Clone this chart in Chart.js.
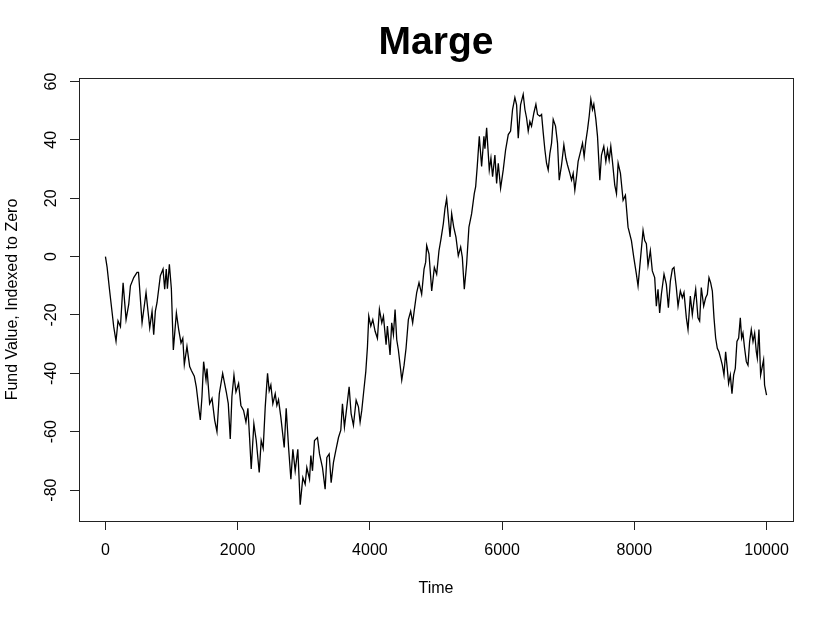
<!DOCTYPE html>
<html><head><meta charset="utf-8">
<script src="https://cdn.jsdelivr.net/npm/chart.js@4/dist/chart.umd.min.js"></script>
<style>html,body{margin:0;padding:0;background:#fff}#wrap{width:833px;height:619px}</style>
</head><body><div id="wrap"><canvas id="c" width="833" height="619"></canvas></div>
<script>
const chartTitle = "Marge";
const xLabel = "Time";
const yLabel = "Fund Value, Indexed to Zero";
const xTicks = [0, 2000, 4000, 6000, 8000, 10000];
const yTicks = [-80, -60, -40, -20, 0, 20, 40, 60];

const times = [
0,25,60,100,125,160,190,227,267,312,352,378,428,478,500,554,614,670,705,730,755,780,830,871,896,920,937,967,997,
1027,1073,1108,1143,1170,1193,1233,1274,1300,1344,1374,1410,1435,1460,1485,1521,1536,1576,1612,1652,1687,1722,1773,1828,1858,1888,1913,1944,1974,
2014,2049,2089,2125,2155,2180,2205,2245,2281,2326,2356,2386,2417,2452,2477,2502,2532,2568,2593,2618,2653,2704,2734,2770,2805,2835,2870,2910,2946,2986,
3021,3046,3087,3107,3132,3162,3207,3238,3283,3323,3349,3384,3414,3449,3484,3525,3560,3585,3615,3651,3686,3716,3751,3792,3827,3852,3877,3903,3938,3963,3983,
4014,4044,4079,4114,4144,4180,4205,4245,4265,4305,4330,4356,4381,4406,4431,4466,4482,4517,4547,4582,4617,4647,4673,4708,4743,4783,4819,4844,4859,4894,4935,4975,
5010,5045,5075,5111,5136,5161,5186,5212,5237,5267,5302,5337,5373,5398,5428,5463,5498,5539,5579,5600,5624,5655,5690,5725,5740,5766,5806,5831,5856,5891,5917,5942,5977,
6017,6053,6093,6128,6158,6193,6219,6244,6279,6319,6345,6370,6395,6420,6445,6481,6511,6536,6571,6597,6622,6647,6672,6697,6723,6748,6773,6808,6838,6864,6899,6934,6964,6989,
7025,7050,7075,7100,7125,7150,7186,7216,7241,7266,7292,7317,7342,7367,7387,7418,7443,7478,7503,7538,7569,7594,7619,7644,7669,7704,7730,7755,7790,7830,7865,7905,7956,7991,
8031,8056,8091,8132,8157,8182,8207,8242,8272,8308,8333,8358,8383,8409,8449,8484,8515,8545,8575,8600,8635,8661,8696,8726,8751,8787,8812,8847,8877,8902,8928,8963,8988,
9013,9049,9079,9104,9129,9154,9180,9205,9230,9255,9280,9305,9331,9356,9381,9401,9426,9452,9477,9502,9527,9552,9578,9603,9623,9643,9668,9694,9719,9744,9769,9795,9820,9845,9860,9885,9910,9935,9955,9970,10000
];
const values = [
0,-3.6,-11,-19,-24,-29,-22,-24,-9,-21.6,-16.4,-10,-7.2,-5.4,-5.4,-22.7,-12.3,-24.4,-18.7,-26.8,-18.7,-15.8,-6.6,-4.3,-11.2,-4.3,-11,-2.6,-11,
-32,-19.3,-25,-29.6,-28,-37,-30.8,-37.7,-39,-41,-44.6,-51.5,-56,-48,-36,-42.3,-38.4,-50.4,-48.6,-56,-60,-47,-40,-46.4,-50.4,-62.5,-48,-40.6,-46.4,
-43.5,-51,-52.7,-56.7,-52,-62,-72.8,-57.3,-63,-74,-63,-65.7,-51.5,-40,-46,-44,-50.4,-47,-51,-49,-55,-65.4,-52,-65.4,-76.3,-66,-73.4,-66,-85,-75.7,
-78,-72.3,-76.3,-68.2,-73.4,-63,-62,-67.6,-72.3,-79.7,-68.8,-67.6,-77.5,-70.5,-66.5,-62,-59.5,-50.4,-58.4,-51.5,-44.6,-53.8,-57.8,-49.2,-51.5,-56.7,-52.7,-47,-39.4,-31,-20.4,
-23.8,-21.6,-25.6,-28,-18.1,-22.7,-20.4,-30.2,-23.8,-33.7,-22.7,-26.7,-18.1,-28.5,-32,-38.9,-42.3,-37.2,-31.4,-21.6,-18.7,-22.7,-18.1,-12.3,-8.9,-12.9,-4.3,-1.9,3.8,0.9,-11.8,-3.7,
-6,2,6,11.3,16.5,19.9,13.6,6.7,14.7,10.2,6.7,0.3,3.3,-0.2,-11.2,-2.6,10.1,14.7,21.6,24,30.9,41.2,30.9,41.2,37,44.1,29.7,33.7,27.4,34.8,25.1,32,23.4,
29.7,36.6,41.8,43,50.4,54.5,52,40.6,52,55.6,50.4,47.5,43,46.3,44.7,49.3,52.2,48.7,48.1,48.7,42.4,36.6,32,29.7,35.4,38.9,47,44.7,38.9,26.2,31.4,38.3,33.7,31.4,
28.5,26.2,28.5,22.8,27.4,32.6,36,38.9,34.3,39.5,43.5,48.1,53.9,50.4,52.2,47,41.2,26.2,34.8,37.8,32.6,36.6,33.1,37.8,32.6,24.5,21.6,32,28.5,19.3,21,10.1,5.5,-0.2,
-6,-10,-1.3,9,5.5,4.4,-3.1,2,-4.9,-7.2,-17,-11.2,-19.3,-12.9,-6,-9.5,-17.5,-8.4,-4.3,-3.7,-10.6,-17,-11.8,-14.1,-12.3,-21,-25,-13.5,-19.9,-15.2,-11.2,-21,-22.1,
-10.6,-17,-14.1,-12.9,-7.2,-8.9,-11.8,-21,-27.9,-31.4,-32.6,-34.8,-37.2,-40.6,-32.6,-37.2,-43.5,-40.6,-47,-40.6,-38.3,-29.1,-27.9,-21,-27.9,-26.2,-31.4,-36,-37.2,-29.1,-25,-29.1,-26.2,-32.6,-34.8,-25,-40.6,-37.7,-35.4,-44,-47.5
];

const points = times.map((t, i) => ({ x: t, y: values[i] }));
const FONT = '"Liberation Sans", Arial, Helvetica, sans-serif';

const framePlugin = {
  id: 'frame',
  afterDraw(chart) {
    const { ctx, chartArea: a } = chart;
    ctx.save();
    ctx.strokeStyle = '#222';
    ctx.lineWidth = 1;
    ctx.strokeRect(Math.round(a.left) + 0.5, Math.round(a.top) + 0.5,
      Math.round(a.right - a.left), Math.round(a.bottom - a.top));
    ctx.fillStyle = '#000';
    ctx.font = 'bold 39px ' + FONT;
    ctx.textAlign = 'center';
    ctx.textBaseline = 'alphabetic';
    ctx.fillText(chartTitle, (a.left + a.right) / 2, 54);
    ctx.restore();
  }
};

new Chart(document.getElementById('c'), {
  type: 'scatter',
  data: {
    datasets: [{
      data: points,
      showLine: true,
      borderColor: '#000',
      borderWidth: 1.3,
      pointRadius: 0,
      pointHoverRadius: 0,
      tension: 0,
      fill: false
    }]
  },
  options: {
    responsive: false,
    animation: false,
    devicePixelRatio: 1,
    layout: { padding: { top: 78, right: 40, bottom: 0, left: 0 } },
    plugins: { legend: { display: false }, tooltip: { enabled: false }, title: { display: false } },
    scales: {
      x: {
        type: 'linear',
        min: -400, max: 10400,
        afterBuildTicks: s => { s.ticks = xTicks.map(v => ({ value: v })); },
        afterFit: s => { s.height = 98; },
        grid: { display: true, drawOnChartArea: false, drawTicks: true, tickLength: 9, color: '#222', lineWidth: 1 },
        border: { display: false },
        ticks: { color: '#000', font: { family: FONT, size: 16 }, padding: 11, maxRotation: 0, autoSkip: false, callback: v => String(v) },
        title: { display: true, text: xLabel, color: '#000', font: { family: FONT, size: 16 }, padding: { top: 0, bottom: 21 } }
      },
      y: {
        type: 'linear',
        min: -90.6, max: 61.2,
        afterBuildTicks: s => { s.ticks = yTicks.map(v => ({ value: v })); },
        afterFit: s => { s.width = 79; },
        grid: { display: true, drawOnChartArea: false, drawTicks: true, tickLength: 9, color: '#222', lineWidth: 1 },
        border: { display: false },
        ticks: { color: '#000', font: { family: FONT, size: 16 }, padding: 7, minRotation: 90, maxRotation: 90, crossAlign: 'center', autoSkip: false, callback: v => String(v) },
        title: { display: true, text: yLabel, color: '#000', font: { family: FONT, size: 16 }, padding: { top: 3, bottom: 0 } }
      }
    }
  },
  plugins: [framePlugin]
});
</script>
</body></html>
